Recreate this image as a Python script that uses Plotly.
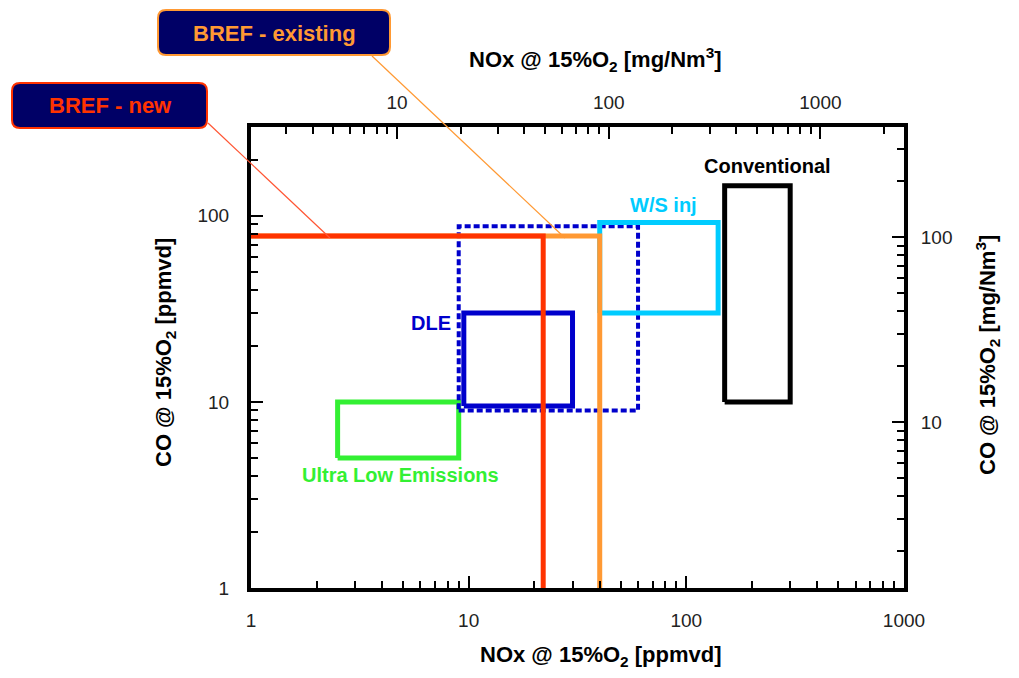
import math
import plotly.graph_objects as go

# ---- emission windows (NOx ppmvd range, CO ppmvd range) ----
ule_nox = [2.5, 9.0]
ule_co = [5.0, 10.0]

dle_nox = [9.5, 30.0]
dle_co = [9.5, 30.0]

dle_ext_nox = [9.0, 60.0]
dle_ext_co = [9.0, 88.0]

ws_nox = [40.0, 140.0]
ws_co = [30.0, 92.0]

conv_nox = [150.0, 300.0]
conv_co = [10.0, 145.0]

# ---- BREF limits (NOx ppmvd, CO ppmvd) ----
bref_new_nox = 22.0
bref_existing_nox = 40.0
bref_co = 78.0

# ---- axis ticks ----
x_major = [1, 10, 100, 1000]
y_major = [1, 10, 100]
x2_major = [10, 100, 1000]
y2_major = [10, 100]

# page geometry
W, H = 1019, 678
L, R, T, B = 251, 904, 127, 588
PW, PH = R - L, B - T


def paper(px, py):
    return (px - L) / PW, (B - py) / PH


def rect(xs, ys):
    x0, x1 = xs
    y0, y1 = ys
    return [x0, x1, x1, x0, x0], [y0, y0, y1, y1, y0]


def minors(lo, hi):
    vals = []
    d = 10 ** math.floor(math.log10(lo))
    while d <= hi:
        for m in range(2, 10):
            v = m * d
            if lo <= v <= hi:
                vals.append(v)
        d *= 10
    return vals


RED = "#ff3300"
ORANGE = "#ff9933"
BLUE = "#0000cc"
LBLUE = "#00ccff"
GREEN = "#33f033"
NAVY = "#000066"
FONT = "Liberation Sans, Arial, sans-serif"

fig = go.Figure()

boxes = [
    (ule_nox, ule_co, GREEN, "solid", 5),
    (dle_ext_nox, dle_ext_co, BLUE, "6px,3px", 4),
    (dle_nox, dle_co, BLUE, "solid", 5),
    (ws_nox, ws_co, LBLUE, "solid", 5),
    (conv_nox, conv_co, "black", "solid", 5),
]
for xs, ys, col, dash, w in boxes:
    bx, by = rect(xs, ys)
    fig.add_trace(go.Scatter(x=bx, y=by, mode="lines",
                             line=dict(color=col, width=w, dash=dash),
                             hoverinfo="skip", showlegend=False))

# BREF limit lines: horizontal at CO limit, vertical at NOx limit
fig.add_trace(go.Scatter(x=[1, bref_existing_nox, bref_existing_nox],
                         y=[bref_co, bref_co, 1], mode="lines",
                         line=dict(color=ORANGE, width=5),
                         hoverinfo="skip", showlegend=False))
fig.add_trace(go.Scatter(x=[1, bref_new_nox, bref_new_nox],
                         y=[bref_co, bref_co, 1], mode="lines",
                         line=dict(color=RED, width=5),
                         hoverinfo="skip", showlegend=False))

# invisible trace to activate the secondary (mg/Nm3) axes
fig.add_trace(go.Scatter(x=[10], y=[10], xaxis="x2", yaxis="y2",
                         mode="markers", marker=dict(opacity=0),
                         hoverinfo="skip", showlegend=False))

tick_font = dict(family=FONT, size=19, color="#222222")

common = dict(type="log", showgrid=False, zeroline=False, showline=True,
              linecolor="black", linewidth=4, ticks="inside", ticklen=12,
              tickwidth=2, tickcolor="black", tickfont=tick_font,
              tickmode="array")


def minor_ticks(lo, hi):
    return dict(tickmode="array", tickvals=minors(lo, hi), ticks="inside",
                ticklen=7, tickwidth=1.5, tickcolor="black", showgrid=False)


fig.update_layout(
    width=W, height=H,
    margin=dict(l=L, r=W - R, t=T, b=H - B),
    paper_bgcolor="white", plot_bgcolor="white",
    xaxis=dict(**common, range=[0, 3], tickvals=x_major,
               ticktext=[str(v) for v in x_major], ticklabelstandoff=12,
               minor=minor_ticks(1, 1000)),
    yaxis=dict(**common, range=[0, math.log10(300)], tickvals=y_major,
               ticktext=[str(v) for v in y_major], ticklabelstandoff=14,
               minor=minor_ticks(1, 300)),
    xaxis2=dict(**common, overlaying="x", side="top", anchor="y",
                range=[0.310, 3.395], tickvals=x2_major,
                ticktext=[str(v) for v in x2_major], ticklabelstandoff=6,
                minor=minor_ticks(2.05, 2480)),
    yaxis2=dict(**common, overlaying="y", side="right", anchor="x",
                range=[0.103, 2.595], tickvals=y2_major,
                ticktext=[str(v) for v in y2_major], ticklabelstandoff=9,
                minor=minor_ticks(1.27, 393)),
)

annotations = []


def label(px, py, text, color, size=20, angle=0):
    x, y = paper(px, py)
    annotations.append(dict(x=x, y=y, xref="paper", yref="paper", text=text,
                            showarrow=False, textangle=angle,
                            font=dict(family=FONT, size=size, color=color),
                            xanchor="center", yanchor="middle"))


# axis titles
label(601, 656, "<b>NOx @ 15%O<sub>2</sub> [ppmvd]</b>", "black", size=22)
label(595, 60, "<b>NOx @ 15%O<sub>2</sub> [mg/Nm<sup>3</sup>]</b>", "black", size=22)
label(165, 353, "<b>CO @ 15%O<sub>2</sub> [ppmvd]</b>", "black", size=22, angle=-90)
label(987, 355, "<b>CO @ 15%O<sub>2</sub> [mg/Nm<sup>3</sup>]</b>", "black", size=22, angle=-90)

# region labels
label(767, 166, "<b>Conventional</b>", "black")
label(663, 205, "<b>W/S inj</b>", LBLUE)
label(431, 323, "<b>DLE</b>", BLUE)
label(400, 475, "<b>Ultra Low Emissions</b>", GREEN)

shapes = []


def rounded_box(x0, y0, x1, y1, r, fill, border):
    ax0, ay0 = paper(x0, y0)
    ax1, ay1 = paper(x1, y1)
    rx, ry = r / PW, r / PH
    path = (f"M {ax0 + rx},{ay0} L {ax1 - rx},{ay0} Q {ax1},{ay0} {ax1},{ay0 - ry} "
            f"L {ax1},{ay1 + ry} Q {ax1},{ay1} {ax1 - rx},{ay1} "
            f"L {ax0 + rx},{ay1} Q {ax0},{ay1} {ax0},{ay1 + ry} "
            f"L {ax0},{ay0 - ry} Q {ax0},{ay0} {ax0 + rx},{ay0} Z")
    shapes.append(dict(type="path", path=path, xref="paper", yref="paper",
                       fillcolor=fill, line=dict(color=border, width=2),
                       layer="above"))


def leader(p0, p1, color):
    x0, y0 = paper(*p0)
    x1, y1 = paper(*p1)
    shapes.append(dict(type="line", xref="paper", yref="paper",
                       x0=x0, y0=y0, x1=x1, y1=y1,
                       line=dict(color=color, width=1.2), layer="above"))


leader((372, 56), (565, 238), ORANGE)
leader((208, 123), (330, 238), "#ff5533")
rounded_box(158, 10, 390, 55, 8, NAVY, ORANGE)
rounded_box(12, 83, 207, 128, 8, NAVY, RED)

fig.update_layout(shapes=shapes)
label(274, 33, "<b>BREF - existing</b>", ORANGE, size=22)
label(110, 106, "<b>BREF - new</b>", RED, size=22)
fig.update_layout(annotations=annotations)

fig.write_html("out.html")
